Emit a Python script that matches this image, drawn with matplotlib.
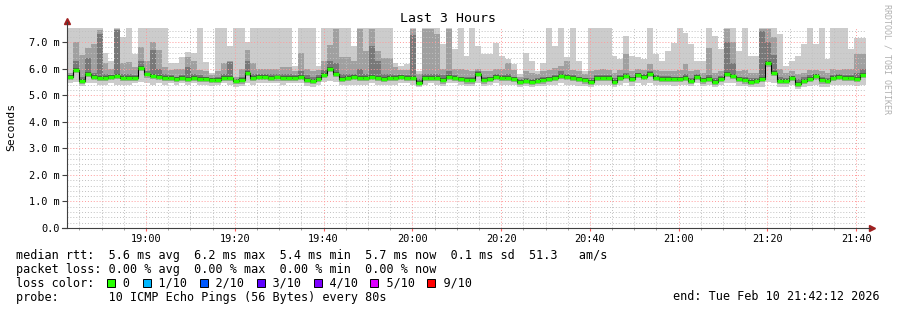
import datetime as dt

import matplotlib
matplotlib.use("Agg")
import matplotlib.dates as mdates
import matplotlib.pyplot as plt
import numpy as np
from matplotlib.patches import Rectangle

# smoke (10 pings per 80 s step), values in ms
hi = [7.6, 7.6, 7.6, 7.6, 7.6, 7.6, 6.58, 6.27, 7.6, 7.2, 7.6, 6.55, 7.6, 7.6, 7.6,
      7.6, 7.6, 6.2, 6.2, 6.45, 6.62, 6.6, 7.6, 6.25, 5.85, 7.6, 7.6, 6.87, 7.6, 7.6,
      7.0, 7.6, 7.6, 7.6, 7.6, 7.6, 7.6, 7.6, 6.1, 7.6, 7.6, 7.6, 6.1, 7.6, 7.6,
      7.6, 7.6, 7.6, 6.85, 7.6, 7.6, 7.6, 7.6, 7.6, 7.6, 6.23, 6.1, 6.17, 7.6, 5.92,
      7.6, 7.6, 7.6, 6.92, 7.6, 6.73, 7.6, 6.48, 7.6, 6.86, 6.54, 6.54, 6.98, 6.48, 6.35,
      6.17, 5.79, 6.6, 6.29, 5.92, 6.23, 7.6, 6.86, 7.6, 6.42, 7.6, 6.29, 5.92, 7.6, 7.6,
      7.6, 7.6, 6.48, 6.35, 7.23, 6.48, 6.42, 6.35, 7.6, 6.54, 6.29, 6.67, 6.98, 7.6, 7.36,
      6.92, 6.29, 6.29, 7.6, 7.23, 6.73, 7.6, 7.6, 6.67, 7.6, 6.48, 6.48, 7.6, 7.6, 7.6,
      7.29, 6.1, 6.29, 6.48, 6.92, 7.6, 6.92, 7.6, 6.35, 7.6, 7.6, 7.6, 6.73, 7.17, 7.17]
mid = [5.85, 7.0, 6.5, 6.77, 6.94, 7.45, 6.2, 6.0, 7.5, 6.2, 6.25, 6.05, 6.8, 6.3, 7.0,
       6.7, 6.05, 5.95, 6.0, 6.0, 6.45, 6.3, 5.95, 5.9, 5.75, 5.9, 6.2, 6.3, 5.7, 6.0,
       6.7, 6.2, 6.0, 6.0, 6.0, 6.0, 6.05, 6.05, 5.9, 6.6, 6.0, 5.9, 5.95, 6.3, 6.9,
       7.5, 6.45, 6.45, 6.3, 7.5, 6.65, 7.5, 6.65, 6.4, 6.4, 6.05, 5.95, 5.95, 7.5, 5.8,
       7.5, 7.5, 7.3, 6.0, 7.5, 6.0, 6.0, 5.95, 5.92, 5.98, 5.9, 5.9, 6.0, 6.0, 6.2,
       5.95, 5.7, 5.9, 5.85, 5.8, 5.9, 5.95, 6.04, 6.1, 6.29, 5.95, 5.9, 5.8, 5.9, 5.95,
       6.0, 5.95, 5.85, 5.95, 6.54, 5.9, 6.0, 5.95, 6.17, 5.95, 5.9, 5.9, 5.9, 5.95, 6.17,
       5.9, 5.95, 5.85, 6.79, 5.85, 5.9, 7.5, 7.0, 5.9, 5.95, 5.85, 5.85, 7.5, 7.5, 7.2,
       6.0, 5.85, 5.9, 5.8, 5.85, 5.95, 5.95, 5.9, 5.85, 6.0, 5.95, 6.0, 6.0, 6.54, 6.54]
dk = [5.75, 6.3, 5.7, 6.4, 5.85, 7.3, 5.8, 5.75, 7.45, 5.8, 5.8, 5.75, 6.3, 5.9, 6.7,
      6.0, 5.8, 5.75, 5.7, 5.75, 6.05, 5.8, 5.75, 5.7, 5.65, 5.7, 5.8, 6.25, 5.62, 5.7,
      6.3, 5.8, 5.8, 5.8, 5.8, 5.8, 5.8, 5.8, 5.75, 5.9, 5.75, 5.7, 5.75, 5.95, 6.3,
      6.2, 5.8, 5.8, 5.8, 6.0, 5.8, 6.85, 6.3, 5.8, 5.8, 5.75, 5.75, 5.75, 7.25, 5.6,
      5.8, 5.8, 5.8, 5.75, 5.9, 5.75, 5.7, 5.7, 5.7, 5.9, 5.7, 5.7, 5.78, 5.75, 5.8,
      5.7, 5.6, 5.65, 5.6, 5.65, 5.7, 5.7, 5.75, 5.9, 5.8, 5.75, 5.7, 5.65, 5.65, 5.75,
      5.75, 5.75, 5.65, 5.75, 5.85, 5.7, 5.85, 5.8, 5.9, 5.75, 5.72, 5.72, 5.7, 5.7, 5.8,
      5.65, 5.8, 5.65, 5.75, 5.65, 5.72, 7.0, 6.2, 5.7, 5.7, 5.65, 5.65, 7.4, 7.0, 6.5,
      5.7, 5.65, 5.72, 5.6, 5.68, 5.75, 5.8, 5.7, 5.65, 5.75, 5.8, 5.75, 5.75, 5.85, 6.0]
med = [5.69, 5.96, 5.54, 5.79, 5.69, 5.66, 5.66, 5.69, 5.72, 5.64, 5.64, 5.66, 6.04, 5.78, 5.74,
       5.70, 5.66, 5.66, 5.60, 5.64, 5.62, 5.66, 5.62, 5.62, 5.58, 5.57, 5.65, 5.64, 5.55, 5.56,
       5.85, 5.66, 5.69, 5.68, 5.66, 5.67, 5.64, 5.66, 5.66, 5.69, 5.57, 5.53, 5.62, 5.77, 5.98,
       5.81, 5.62, 5.64, 5.68, 5.66, 5.64, 5.68, 5.66, 5.60, 5.66, 5.64, 5.68, 5.66, 5.66, 5.45,
       5.66, 5.66, 5.66, 5.56, 5.69, 5.66, 5.60, 5.56, 5.56, 5.79, 5.56, 5.60, 5.69, 5.64, 5.64,
       5.60, 5.51, 5.54, 5.51, 5.54, 5.56, 5.60, 5.64, 5.73, 5.69, 5.66, 5.60, 5.56, 5.51, 5.66,
       5.66, 5.64, 5.51, 5.64, 5.73, 5.60, 5.77, 5.69, 5.79, 5.66, 5.62, 5.62, 5.60, 5.60, 5.64,
       5.54, 5.69, 5.56, 5.60, 5.51, 5.60, 5.81, 5.73, 5.60, 5.56, 5.51, 5.54, 5.60, 6.20, 5.85,
       5.54, 5.54, 5.64, 5.42, 5.54, 5.60, 5.71, 5.56, 5.54, 5.66, 5.69, 5.64, 5.66, 5.62, 5.75]
lo = [5.45, 5.5, 5.35, 5.45, 5.45, 5.4, 5.4, 5.45, 5.4, 5.4, 5.4, 5.45, 5.5, 5.45, 5.4,
      5.45, 5.4, 5.45, 5.4, 5.45, 5.4, 5.45, 5.4, 5.4, 5.35, 5.4, 5.45, 5.4, 5.3, 5.35,
      5.45, 5.4, 5.45, 5.45, 5.45, 5.45, 5.4, 5.45, 5.45, 5.45, 5.35, 5.3, 5.4, 5.5, 5.55,
      5.5, 5.4, 5.4, 5.4, 5.4, 5.4, 5.45, 5.4, 5.4, 5.4, 5.4, 5.45, 5.45, 5.4, 5.3,
      5.4, 5.45, 5.4, 5.35, 5.45, 5.45, 5.4, 5.35, 5.35, 5.45, 5.35, 5.4, 5.45, 5.4, 5.4,
      5.4, 5.3, 5.35, 5.3, 5.35, 5.35, 5.4, 5.4, 5.45, 5.4, 5.4, 5.35, 5.35, 5.3, 5.4,
      5.4, 5.4, 5.3, 5.4, 5.45, 5.35, 5.45, 5.4, 5.45, 5.4, 5.4, 5.4, 5.35, 5.4, 5.4,
      5.35, 5.45, 5.35, 5.4, 5.3, 5.4, 5.45, 5.45, 5.35, 5.35, 5.3, 5.3, 5.3, 5.5, 5.45,
      5.3, 5.3, 5.4, 5.25, 5.3, 5.35, 5.4, 5.3, 5.3, 5.4, 5.4, 5.4, 5.4, 5.35, 5.4]

loss_labels = ["0", "1/10", "2/10", "3/10", "4/10", "5/10", "9/10"]
loss_colors = ["#26ff00", "#00b8ff", "#0059ff", "#5e00ff", "#7e00ff", "#dd00ff", "#ff0000"]

plt.rcParams["font.family"] = "DejaVu Sans Mono"

W, H = 897, 310
fig = plt.figure(figsize=(W / 100, H / 100), dpi=100)
ax = fig.add_axes([67 / W, 1 - 228 / H, (866 - 67) / W, 200 / H])

start = dt.datetime(2026, 2, 10, 18, 42, 12)
x = mdates.date2num([start + dt.timedelta(seconds=80 * i) for i in range(len(med) + 1)])


def ext(a):
    return np.append(np.asarray(a, float), a[-1])


medv = np.asarray(med)
ax.fill_between(x, ext(lo), ext(hi), step="post", color="#cccccc", lw=0, zorder=1)
ax.fill_between(x, ext(medv - 0.12), ext(mid), step="post", color="#a0a0a0", lw=0, zorder=1.1)
ax.fill_between(x, ext(medv - 0.07), ext(dk), step="post", color="#787878", lw=0, zorder=1.2)
ax.fill_between(x, ext(medv - 0.04), ext(medv + 0.07), step="post", color="#4a4a4a", lw=0, zorder=1.3)

# median line
ax.step(x, ext(med), where="post", color="black", lw=0.8, zorder=4)
ax.hlines(med, x[:-1], x[1:], colors="#26ff00", lw=2.5, zorder=5)

ax.set_xlim(x[0], x[-1])
ax.set_ylim(0, 7.53)

ax.xaxis.set_major_locator(mdates.MinuteLocator(byminute=[0, 20, 40]))
ax.xaxis.set_minor_locator(mdates.MinuteLocator(byminute=range(0, 60, 5)))
ax.xaxis.set_major_formatter(mdates.DateFormatter("%H:%M"))
yt = np.arange(0, 8)
ax.set_yticks(yt)
ax.set_yticklabels(["0.0"] + [f"{v:.1f} m" for v in yt[1:]])
ax.set_yticks(np.arange(0, 7.6, 0.2), minor=True)

ax.grid(which="minor", color="#c0c0c0", ls=(0, (1, 2)), lw=0.7)
ax.grid(which="major", color="#ff9a9a", ls=(0, (1, 2)), lw=0.7)
ax.set_axisbelow(False)

ax.tick_params(axis="both", which="both", labelsize=7.4)
ax.tick_params(axis="x", which="major", length=2.5, color="#ff6060", pad=1.5)
ax.tick_params(axis="x", which="minor", length=1.5, color="#909090")
ax.tick_params(axis="y", which="major", length=3.5, color="#404040", pad=2)
ax.tick_params(axis="y", which="minor", length=0)

for s in ax.spines.values():
    s.set_visible(False)
ax.plot([0, 0], [0, 1.03], transform=ax.transAxes, color="#404040", lw=0.8, clip_on=False, zorder=6)
ax.plot([-0.006, 1.005], [0, 0], transform=ax.transAxes, color="#404040", lw=0.8, clip_on=False, zorder=6)
ax.plot([0], [1.035], marker="^", ms=4, color="#a02020", transform=ax.transAxes, clip_on=False)
ax.plot([1.007], [0], marker=">", ms=4, color="#a02020", transform=ax.transAxes, clip_on=False)


def px(xp, yp):
    return xp / W, 1 - yp / H


fig.text(*px(448, 19), "Last 3 Hours", ha="center", va="center", fontsize=9.5)
fig.text(*px(11, 127), "Seconds", ha="center", va="center", rotation=90, fontsize=8.2)
fig.text(*px(887, 59), "RRDTOOL / TOBI OETIKER", ha="center", va="center",
         rotation=270, fontsize=6, color="#b0b0b0")

fs = 8.5
cw = fs * 0.6021 * 100 / 72  # monospace char advance in px
lines = [
    "median rtt:  5.6 ms avg  6.2 ms max  5.4 ms min  5.7 ms now  0.1 ms sd  51.3   am/s",
    "packet loss: 0.00 % avg  0.00 % max  0.00 % min  0.00 % now",
    "loss color:" + "".join(f"    {lab}" for lab in loss_labels),
    "probe:       10 ICMP Echo Pings (56 Bytes) every 80s",
]
for i, line in enumerate(lines):
    fig.text(*px(16, 255 + 14 * i), line, ha="left", va="center", fontsize=fs)

pos = 11
for lab, c in zip(loss_labels, loss_colors):
    sq = pos + 2
    x0, y0 = px(15 + sq * cw, 286.5)
    fig.patches.append(Rectangle((x0, y0), 8 / W, 8 / H, transform=fig.transFigure,
                                 facecolor=c, edgecolor="black", lw=0.7))
    pos += 4 + len(lab)

fig.text(*px(880, 297), "end: Tue Feb 10 21:42:12 2026", ha="right", va="center", fontsize=fs)

fig.savefig("out.png", dpi=100)
